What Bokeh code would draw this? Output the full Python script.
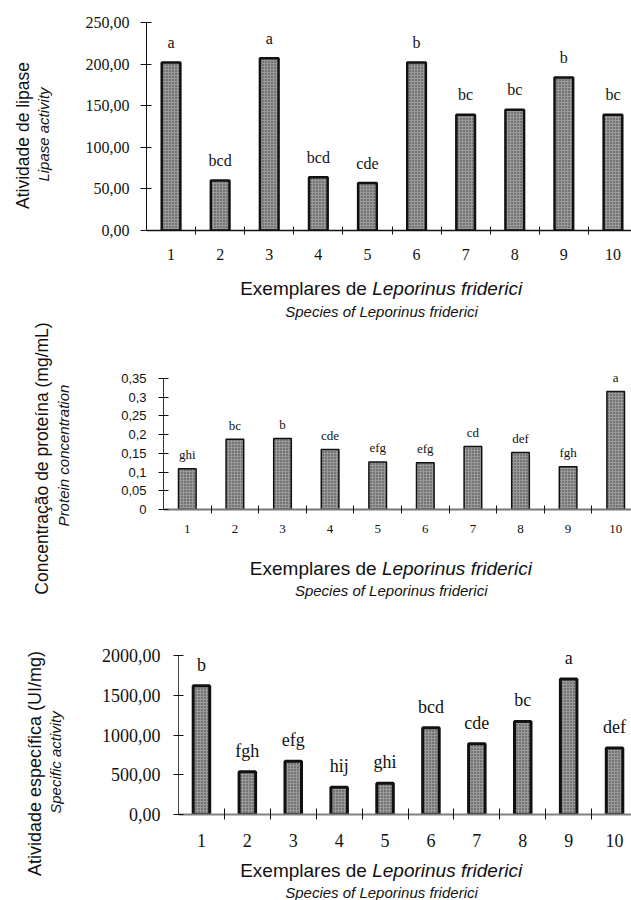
import math
from bokeh.plotting import figure
from bokeh.models import Range1d, FixedTicker, LabelSet, ColumnDataSource, Plot
from bokeh.layouts import column, row
from bokeh.core.properties import value
from bokeh.embed import file_html
from bokeh.resources import INLINE

# ---------------- data ----------------
samples = [1, 2, 3, 4, 5, 6, 7, 8, 9, 10]
sample_labels = ["1", "2", "3", "4", "5", "6", "7", "8", "9", "10"]

lipase = [202, 60, 207, 64, 57, 202, 139, 145, 184, 139]
lipase_letters = ["a", "bcd", "a", "bcd", "cde", "b", "bc", "bc", "b", "bc"]
lipase_ticks = [0, 50, 100, 150, 200, 250]
lipase_tick_labels = ["0,00", "50,00", "100,00", "150,00", "200,00", "250,00"]

protein = [0.109, 0.188, 0.190, 0.160, 0.127, 0.125, 0.168, 0.152, 0.114, 0.315]
protein_letters = ["ghi", "bc", "b", "cde", "efg", "efg", "cd", "def", "fgh", "a"]
protein_ticks = [0, 0.05, 0.1, 0.15, 0.2, 0.25, 0.3, 0.35]
protein_tick_labels = ["0", "0,05", "0,1", "0,15", "0,2", "0,25", "0,3", "0,35"]

specific = [1620, 537, 671, 344, 394, 1090, 889, 1170, 1705, 838]
specific_letters = ["b", "fgh", "efg", "hij", "ghi", "bcd", "cde", "bc", "a", "def"]
specific_ticks = [0, 500, 1000, 1500, 2000]
specific_tick_labels = ["0,00", "500,00", "1000,00", "1500,00", "2000,00"]

x_title_plain = "Exemplares de"
x_title_italic = "Leporinus friderici"
x_subtitle = "Species of Leporinus friderici"

SERIF = "Liberation Serif"
SANS = "Liberation Sans"
INK = "#111111"
FA = {"frame_align": False} if "frame_align" in Plot.properties() else {}


def blank_fig(w, h):
    f = figure(width=w, height=h, x_range=Range1d(0, w), y_range=Range1d(0, h),
               output_backend="svg", toolbar_location=None,
               x_axis_location=None, y_axis_location=None, min_border=0, **FA)
    f.outline_line_color = None
    f.grid.visible = False
    f.background_fill_color = "white"
    f.border_fill_color = "white"
    return f


def left_titles(w, h, main, main_size, main_pos, sub, sub_size, sub_pos):
    f = blank_fig(w, h)
    f.text(x=[main_pos[0]], y=[h - main_pos[1]], text=[main], angle=math.pi / 2,
           text_align="center", text_baseline="middle", text_font=value(SANS),
           text_font_size=value(main_size), text_color=INK)
    f.text(x=[sub_pos[0]], y=[h - sub_pos[1]], text=[sub], angle=math.pi / 2,
           text_align="center", text_baseline="middle", text_font=value(SANS),
           text_font_size=value(sub_size), text_font_style=value("italic"), text_color=INK)
    return f


def bottom_titles(w, h, center, title_y, sub_y, title_size, sub_size):
    f = blank_fig(w, h)
    fs = float(title_size.replace("px", ""))
    w1 = 134.0 * fs / 19.0     # approx. width of "Exemplares de "
    w2 = 152.6 * fs / 19.0     # approx. width of italic species name
    split = center - (w1 + w2) / 2 + w1
    f.text(x=[split - 0.28 * fs], y=[h - title_y], text=[x_title_plain], text_align="right",
           text_baseline="middle", text_font=value(SANS), text_font_size=value(title_size),
           text_color=INK)
    f.text(x=[split], y=[h - title_y], text=[x_title_italic], text_align="left",
           text_baseline="middle", text_font=value(SANS), text_font_size=value(title_size),
           text_font_style=value("italic"), text_color=INK)
    f.text(x=[center], y=[h - sub_y], text=[x_subtitle], text_align="center",
           text_baseline="middle", text_font=value(SANS), text_font_size=value(sub_size),
           text_font_style=value("italic"), text_color=INK)
    return f


def bar_chart(width, height, border_left, border_top, border_bottom, pad, px_unit,
              values, letters, ticks, tick_labels, ymax,
              y_font, y_font_size, y_standoff, y_tick_in, y_tick_out,
              x_font_size, x_standoff, minor_in, minor_out,
              bar_width, bar_line_w, letter_size, letter_offset,
              xaxis_color, xaxis_w, yaxis_color):
    frame_h = height - border_top - border_bottom
    y_end = ymax * frame_h / (frame_h - pad)
    x_end = 0.5 + (width - border_left) / px_unit
    p = figure(width=width, height=height, x_range=Range1d(0.5, x_end), y_range=Range1d(0, y_end),
               output_backend="svg", toolbar_location=None,
               min_border_left=border_left, min_border_right=0,
               min_border_top=border_top, min_border_bottom=border_bottom, **FA)
    p.outline_line_color = None
    p.xgrid.visible = False
    p.ygrid.visible = False
    p.background_fill_color = "white"
    p.border_fill_color = "white"

    p.vbar(x=samples, top=values, width=bar_width, bottom=0,
           fill_color="#9a9a9a", line_color=INK, line_width=bar_line_w,
           hatch_pattern="dot", hatch_color="#3c3c3c", hatch_scale=3, hatch_weight=1.4)

    src = ColumnDataSource(dict(x=samples, y=values, t=letters))
    p.add_layout(LabelSet(x="x", y="y", text="t", source=src, y_offset=letter_offset,
                          text_align="center", text_baseline="middle",
                          text_font=SERIF, text_font_size=letter_size, text_color=INK))

    xa = p.xaxis[0]
    xa.ticker = FixedTicker(ticks=samples, minor_ticks=[s + 0.5 for s in samples[:-1]])
    xa.major_label_overrides = {s: lab for s, lab in zip(samples, sample_labels)}
    xa.major_tick_in = 0
    xa.major_tick_out = 0
    xa.minor_tick_in = minor_in
    xa.minor_tick_out = minor_out
    xa.minor_tick_line_color = INK
    xa.axis_line_color = xaxis_color
    xa.axis_line_width = xaxis_w
    xa.major_label_text_font = SERIF
    xa.major_label_text_font_size = x_font_size
    xa.major_label_text_color = INK
    xa.major_label_standoff = x_standoff

    ya = p.yaxis[0]
    ya.ticker = FixedTicker(ticks=ticks, minor_ticks=[])
    ya.bounds = (0, ymax)
    ya.major_label_overrides = {t: lab for t, lab in zip(ticks, tick_labels)}
    ya.major_tick_in = y_tick_in
    ya.major_tick_out = y_tick_out
    ya.major_tick_line_color = INK
    ya.minor_tick_in = 0
    ya.minor_tick_out = 0
    ya.axis_line_color = yaxis_color
    ya.major_label_text_font = y_font
    ya.major_label_text_font_size = y_font_size
    ya.major_label_text_color = INK
    ya.major_label_standoff = y_standoff
    return p


# ---------------- chart 1: lipase ----------------
m1 = bar_chart(565, 270, 80, 14, 40, 8, 49.1, lipase, lipase_letters, lipase_ticks,
               lipase_tick_labels, 250, SERIF, "16px", 11, 5, 6, "16px", 14, 4, 4,
               0.38, 2.5, "16px", 20, INK, 1.3, INK)
l1 = left_titles(66, 321, "Atividade de lipase", "17.5px", (22, 135),
                 "Lipase activity", "15px", (43, 134))
b1 = bottom_titles(565, 51, 315, 18, 41, "19px", "15px")
chart1 = row(l1, column(m1, b1))

# ---------------- chart 2: protein ----------------
m2 = bar_chart(547, 224, 79, 35, 36, 22, 47.6, protein, protein_letters, protein_ticks,
               protein_tick_labels, 0.35, SANS, "13px", 12, 5, 5, "13px", 11, 4, 4,
               0.37, 1.5, "13px", 14, "#777777", 2, "#333333")
l2 = left_titles(84, 291, "Concentração de proteína (mg/mL)", "17.5px", (41, 137),
                 "Protein concentration", "15px", (63, 134))
b2 = bottom_titles(547, 67, 306.7, 22.7, 45, "19px", "15px")
chart2 = row(l2, column(m2, b2))

# ---------------- chart 3: specific activity ----------------
m3 = bar_chart(557, 243, 104, 28, 41, 15, 45.9, specific, specific_letters, specific_ticks,
               specific_tick_labels, 2000, SERIF, "18px", 13, 5, 5, "18px", 14, 6, 5,
               0.36, 3, "18px", 21, "#808080", 2, "#444444")
l3 = left_titles(74, 288, "Atividade específica (UI/mg)", "18px", (34, 151),
                 "Specific activity", "15px", (55, 150))
b3 = bottom_titles(557, 45, 307, 15, 37, "19px", "15px")
chart3 = row(l3, column(m3, b3))

layout = column(chart1, chart2, chart3)
open("out.html", "w").write(file_html(layout, INLINE))
